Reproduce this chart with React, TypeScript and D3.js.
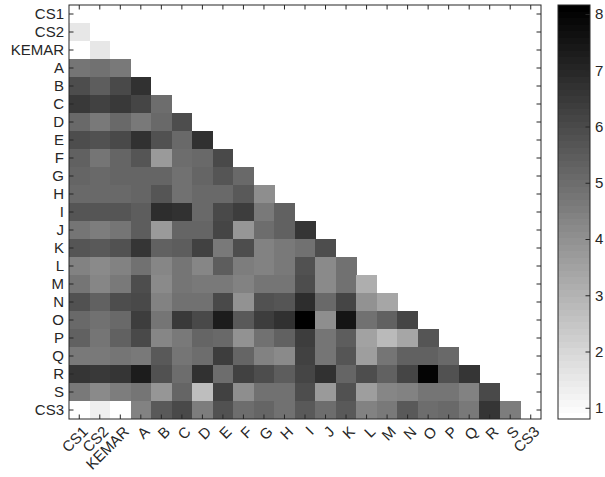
import React, { useEffect, useRef } from "react";
import * as d3 from "d3";

// category labels, same order on both axes
const labels = [
  "CS1", "CS2", "KEMAR", "A", "B", "C", "D", "E", "F", "G", "H", "I",
  "J", "K", "L", "M", "N", "O", "P", "Q", "R", "S", "CS3",
];

// lower triangle: row i holds values against columns 0..i-1
const lowerRows: number[][] = [
  [],
  [1.52],
  [0.8, 1.52],
  [4.81, 4.93, 4.7],
  [5.97, 5.5, 6.02, 6.77],
  [6.54, 6.25, 6.54, 6.14, 5.04],
  [5.16, 4.64, 5.16, 4.7, 5.16, 5.97],
  [5.97, 5.79, 6.08, 6.72, 5.79, 5.16, 6.77],
  [5.33, 4.81, 5.27, 5.68, 3.77, 4.98, 5.16, 6.02],
  [5.27, 5.16, 5.27, 5.27, 5.27, 4.87, 5.22, 5.68, 5.1],
  [5.1, 5.1, 5.1, 5.27, 5.68, 4.93, 5.16, 5.16, 5.56, 4.06],
  [5.68, 5.68, 5.68, 5.45, 6.83, 6.72, 5.16, 6.08, 6.37, 4.64, 5.33],
  [4.75, 4.52, 4.81, 5.5, 3.77, 5.22, 5.22, 6.14, 3.89, 5.04, 5.33, 6.66],
  [5.68, 5.62, 5.79, 6.66, 5.33, 5.45, 6.25, 4.64, 5.97, 4.41, 4.64, 4.93, 5.97],
  [4.47, 4.18, 4.47, 4.93, 4.35, 4.81, 4.29, 5.45, 4.52, 4.47, 4.7, 5.85, 4.23, 4.93],
  [4.75, 4.29, 4.7, 5.91, 4.23, 4.81, 4.7, 4.7, 4.41, 4.75, 4.75, 5.97, 4.23, 4.87, 3.2],
  [5.85, 5.39, 5.91, 6.08, 4.47, 4.93, 4.93, 6.08, 4.0, 5.85, 5.68, 6.83, 5.16, 6.14, 4.0, 3.43],
  [5.16, 4.87, 5.1, 6.37, 4.81, 6.49, 6.02, 7.29, 5.56, 6.37, 6.77, 8.16, 4.06, 7.58, 4.93, 5.33, 6.2],
  [5.39, 4.75, 5.39, 6.02, 4.35, 4.7, 5.27, 5.16, 3.95, 4.93, 5.33, 6.37, 4.75, 5.45, 3.48, 2.85, 3.43, 5.68],
  [4.7, 4.7, 4.75, 4.64, 5.56, 4.75, 5.04, 6.37, 5.22, 4.47, 4.23, 6.25, 4.75, 5.68, 3.6, 4.75, 5.33, 5.33, 5.1],
  [6.6, 6.54, 6.66, 7.24, 5.79, 5.04, 6.77, 5.04, 6.31, 5.97, 5.5, 6.14, 6.72, 5.22, 5.91, 5.33, 6.14, 8.04, 5.85, 6.66],
  [4.64, 4.23, 4.58, 4.75, 3.89, 5.27, 2.7, 6.31, 4.06, 4.93, 4.93, 5.91, 3.71, 5.85, 3.6, 4.35, 4.47, 4.75, 4.75, 4.47, 6.08],
  [0.8, 1.29, 0.8, 4.47, 5.56, 6.08, 4.58, 5.85, 5.04, 5.22, 4.93, 5.56, 4.98, 5.56, 4.47, 4.64, 5.62, 5.04, 5.1, 4.64, 6.6, 4.58],
];

const colorbarTicks = [1, 2, 3, 4, 5, 6, 7, 8];

const App = () => {
  const svgRef = useRef<SVGSVGElement>(null);

  useEffect(() => {
    const svg = d3.select(svgRef.current);
    svg.selectAll("*").remove();

    const width = 605;
    const height = 477;
    const plot = { left: 69, right: 541, top: 5, bottom: 419 };
    const bar = { left: 558, right: 590 };
    const axisColor = "#262626";
    const font = "'Liberation Sans', Arial, sans-serif";

    const cells = lowerRows.flatMap((row, i) =>
      row.map((value, j) => ({ row: labels[i], col: labels[j], value }))
    );
    const [vmin, vmax] = d3.extent(cells, (d) => d.value) as [number, number];

    // 64-step reversed gray map, like the original colormap
    const grays = d3.range(64).map((k) => d3.rgb(255 * (1 - k / 63), 255 * (1 - k / 63), 255 * (1 - k / 63)).toString());
    const color = d3.scaleQuantize<string>().domain([vmin, vmax]).range(grays);

    const x = d3.scaleBand().domain(labels).range([plot.left, plot.right]).padding(0);
    const y = d3.scaleBand().domain(labels).range([plot.top, plot.bottom]).padding(0);

    svg.attr("width", width).attr("height", height);

    svg
      .append("g")
      .selectAll("rect")
      .data(cells)
      .join("rect")
      .attr("x", (d) => x(d.col)!)
      .attr("y", (d) => y(d.row)!)
      .attr("width", x.bandwidth() + 0.3)
      .attr("height", y.bandwidth() + 0.3)
      .attr("fill", (d) => color(d.value))
      .attr("shape-rendering", "crispEdges");

    const tick = 4.5;

    // left axis with labels
    const left = svg
      .append("g")
      .attr("transform", `translate(${plot.left},0)`)
      .call(d3.axisLeft(y).tickSizeInner(-tick).tickSizeOuter(0).tickPadding(5));
    // bottom axis with rotated labels
    const bottom = svg
      .append("g")
      .attr("transform", `translate(0,${plot.bottom})`)
      .call(d3.axisBottom(x).tickSizeInner(-tick).tickSizeOuter(0));
    bottom
      .selectAll("text")
      .attr("x", 0)
      .attr("y", 0)
      .attr("dy", "0.35em")
      .attr("text-anchor", "end")
      .attr("transform", "translate(6,10) rotate(-45)");
    // mirrored ticks on top and right
    const top = svg
      .append("g")
      .attr("transform", `translate(0,${plot.top})`)
      .call(d3.axisTop(x).tickSizeInner(-tick).tickSizeOuter(0).tickFormat(() => ""));
    const right = svg
      .append("g")
      .attr("transform", `translate(${plot.right},0)`)
      .call(d3.axisRight(y).tickSizeInner(-tick).tickSizeOuter(0).tickFormat(() => ""));

    [left, bottom, top, right].forEach((g) => {
      g.select(".domain").remove();
      g.selectAll("line").attr("stroke", axisColor);
      g.selectAll("text").attr("fill", axisColor).attr("font-family", font).attr("font-size", 15);
    });

    svg
      .append("rect")
      .attr("x", plot.left)
      .attr("y", plot.top)
      .attr("width", plot.right - plot.left)
      .attr("height", plot.bottom - plot.top)
      .attr("fill", "none")
      .attr("stroke", axisColor)
      .attr("stroke-width", 1);

    // colorbar
    const cScale = d3.scaleLinear().domain([vmin, vmax]).range([plot.bottom, plot.top]);
    const step = (vmax - vmin) / 64;
    svg
      .append("g")
      .selectAll("rect")
      .data(d3.range(64))
      .join("rect")
      .attr("x", bar.left)
      .attr("width", bar.right - bar.left)
      .attr("y", (k) => cScale(vmin + (k + 1) * step))
      .attr("height", (k) => cScale(vmin + k * step) - cScale(vmin + (k + 1) * step) + 0.5)
      .attr("fill", (k) => grays[k])
      .attr("shape-rendering", "crispEdges");

    const cAxis = svg
      .append("g")
      .attr("transform", `translate(${bar.right},0)`)
      .call(d3.axisRight(cScale).tickValues(colorbarTicks).tickSizeInner(-tick).tickSizeOuter(0).tickPadding(5).tickFormat(d3.format("d")));
    cAxis.select(".domain").remove();
    cAxis.selectAll("line").attr("stroke", axisColor);
    cAxis.selectAll("text").attr("fill", axisColor).attr("font-family", font).attr("font-size", 15);

    svg
      .append("rect")
      .attr("x", bar.left)
      .attr("y", plot.top)
      .attr("width", bar.right - bar.left)
      .attr("height", plot.bottom - plot.top)
      .attr("fill", "none")
      .attr("stroke", axisColor)
      .attr("stroke-width", 1);
  }, []);

  return (
    <svg
      ref={svgRef}
      style={{ position: "absolute", left: 0, top: 0, background: "#fff" }}
    ></svg>
  );
};

export default App;
